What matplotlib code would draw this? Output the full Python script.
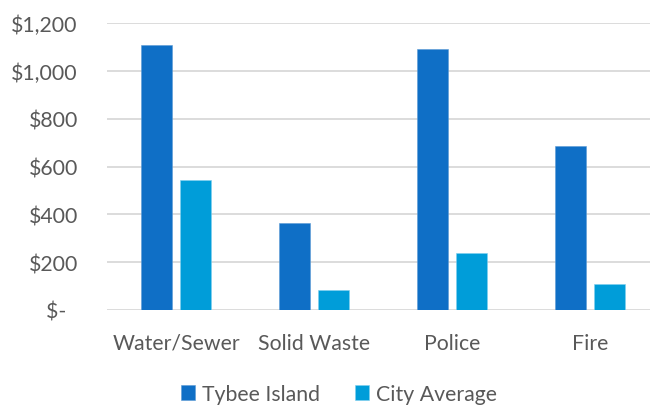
import matplotlib
matplotlib.use("Agg")
import matplotlib.pyplot as plt
import numpy as np
from matplotlib.ticker import FuncFormatter

plt.rcParams['font.family'] = ['Lato', 'DejaVu Sans']

categories = ["Water/Sewer", "Solid Waste", "Police", "Fire"]
tybee = [1107, 362, 1093, 684]
city_avg = [543, 85, 240, 109]
series_names = ["Tybee Island", "City Average"]
colors = ["#0F6FC6", "#009DD9"]
text_color = "#595959"

fig = plt.figure(figsize=(6.5, 4.06), dpi=100)
ax = fig.add_axes([107 / 650, 95 / 406, 552 / 650, 287 / 406])

x = np.arange(len(categories))
w = 0.222
off = 0.1435
ax.bar(x - off, tybee, w, color=colors[0], edgecolor="#5B9BD5", linewidth=0.4,
       label=series_names[0], zorder=3)
ax.bar(x + off, city_avg, w, color=colors[1], edgecolor="#7FCFEF", linewidth=0.4,
       label=series_names[1], zorder=3)

ax.set_xlim(-0.5, len(categories) - 0.5)
ax.set_ylim(0, 1200)
ax.set_yticks(range(0, 1201, 200))


def money(v, pos):
    if v == 0:
        return "$-  "
    return "${:,.0f}".format(v)


ax.yaxis.set_major_formatter(FuncFormatter(money))
ax.set_xticks(x)
ax.set_xticklabels(categories)

ax.grid(axis="y", color="#D9D9D9", linewidth=1.3, zorder=0)
for s in ax.spines.values():
    s.set_visible(False)
ax.tick_params(axis="both", length=0, labelsize=15.3, labelcolor=text_color)
ax.tick_params(axis="y", pad=21)
ax.tick_params(axis="x", pad=16.5)

fig.legend(loc="center", bbox_to_anchor=(0.522, 0.027), ncol=2, frameon=False,
           fontsize=15.3, labelcolor=text_color, handlelength=0.66, handleheight=0.66,
           handletextpad=0.33, columnspacing=1.65)

fig.savefig("out.png", dpi=100)
